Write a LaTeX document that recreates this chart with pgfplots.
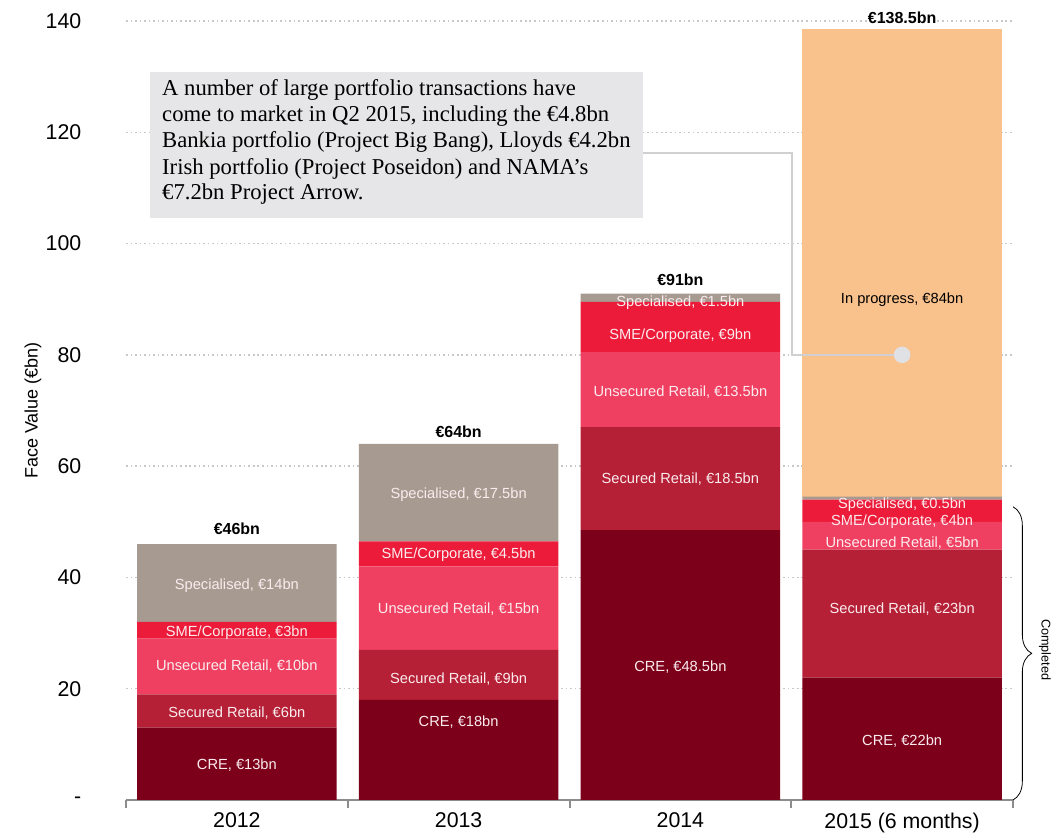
\documentclass[border=0pt]{standalone}
\usepackage{fontspec}
\setmainfont{Liberation Sans}
\newfontfamily\serifann{Liberation Serif}
\usepackage{pgfplots}
\pgfplotsset{compat=1.18}
\usetikzlibrary{decorations.pathreplacing}
\definecolor{cre}{RGB}{125,0,27}
\definecolor{sec}{RGB}{181,32,54}
\definecolor{uns}{RGB}{240,64,98}
\definecolor{sme}{RGB}{237,27,58}
\definecolor{spe}{RGB}{167,155,145}
\definecolor{prog}{RGB}{249,193,140}
\definecolor{boxgray}{RGB}{230,230,232}
\definecolor{gridgray}{RGB}{200,200,200}
\definecolor{axisgray}{RGB}{140,140,140}
\definecolor{linegray}{RGB}{208,208,210}
\definecolor{dotgray}{RGB}{224,225,229}
\definecolor{lbl}{RGB}{250,236,238}
\tikzset{
  segLabelX/.style={font=\fontsize{11}{13}\selectfont, text=lbl, text height=8pt, text depth=0pt, inner sep=0pt, anchor=center},
  totLabelX/.style={font=\fontsize{12}{14}\selectfont\bfseries, text=black, text height=8.6pt, text depth=0pt, inner sep=0pt, anchor=center},
  annLabelX/.style={font=\serifann\fontsize{17}{19.5}\selectfont, text=black, inner sep=0pt, anchor=base west},
}
\begin{document}
\begin{tikzpicture}
\useasboundingbox (-94.5pt,-27.75pt) rectangle (696.75pt,600pt);
\begin{axis}[
  at={(0,0)}, anchor=south west,
  width=665.25pt, height=584.25pt, scale only axis,
  xmin=-0.5, xmax=3.5, ymin=0, ymax=140,
  ybar stacked, bar width=0.9,
  clip=false,
  axis x line=bottom, axis y line=left,
  x axis line style={draw=axisgray, line width=1.5pt, -},
  y axis line style={draw=none, -},
  xtick={-0.5,0.5,1.5,2.5,3.5},
  xticklabels={2012,2013,2014,2015 (6 months)},
  x tick label as interval,
  xtick style={draw=axisgray, line width=1.5pt},
  tick align=outside,
  major tick length=6pt,
  ytick={0,20,40,60,80,100,120,140},
  yticklabels={-,20,40,60,80,100,120,140},
  ytick style={draw=none},
  ymajorgrids,
  major grid style={draw=gridgray, line width=1pt, dash pattern=on 1.2pt off 2.2pt},
  tick label style={font=\fontsize{16}{18}\selectfont},
  yticklabel style={xshift=-24pt},
  ylabel={Face Value (€bn)},
  ylabel style={font=\fontsize{13.5}{16}\selectfont, at={(axis description cs:-0.1048,0.5)}, anchor=center},
]
\addplot[fill=cre, draw=none] coordinates {(0,13) (1,18) (2,48.5) (3,22)};
\addplot[fill=sec, draw=none] coordinates {(0,6) (1,9) (2,18.5) (3,23)};
\addplot[fill=uns, draw=none] coordinates {(0,10) (1,15) (2,13.5) (3,5)};
\addplot[fill=sme, draw=none] coordinates {(0,3) (1,4.5) (2,9) (3,4)};
\addplot[fill=spe, draw=none] coordinates {(0,14) (1,17.5) (2,1.5) (3,0.5)};
\addplot[fill=prog, draw=none] coordinates {(0,0) (1,0) (2,0) (3,84)};
\end{axis}
% annotations in data units (x: -0.5..3.5 -> 0..665.25pt, y: 0..140 -> 0..584.25pt)
\begin{scope}[x=166.3125pt, y=4.173214pt, xshift=83.15625pt]
\node[segLabelX] at (0,38.8) {Specialised, €14bn};
\node[segLabelX] at (0,30.4) {SME/Corporate, €3bn};
\node[segLabelX] at (0,24.3) {Unsecured Retail, €10bn};
\node[segLabelX] at (0,15.8) {Secured Retail, €6bn};
\node[segLabelX] at (0,6.5) {CRE, €13bn};
\node[segLabelX] at (1,55.2) {Specialised, €17.5bn};
\node[segLabelX] at (1,44.4) {SME/Corporate, €4.5bn};
\node[segLabelX] at (1,34.5) {Unsecured Retail, €15bn};
\node[segLabelX] at (1,21.9) {Secured Retail, €9bn};
\node[segLabelX] at (1,14.2) {CRE, €18bn};
\node[segLabelX] at (2,89.7) {Specialised, €1.5bn};
\node[segLabelX] at (2,83.7) {SME/Corporate, €9bn};
\node[segLabelX] at (2,73.5) {Unsecured Retail, €13.5bn};
\node[segLabelX] at (2,57.9) {Secured Retail, €18.5bn};
\node[segLabelX] at (2,24.1) {CRE, €48.5bn};
\node[segLabelX] at (3,53.4) {Specialised, €0.5bn};
\node[segLabelX] at (3,50.3) {SME/Corporate, €4bn};
\node[segLabelX] at (3,46.4) {Unsecured Retail, €5bn};
\node[segLabelX] at (3,34.5) {Secured Retail, €23bn};
\node[segLabelX] at (3,10.8) {CRE, €22bn};
\node[segLabelX, text=black] at (3,90.2) {In progress, €84bn};

\node[totLabelX] at (0,48.7) {€46bn};
\node[totLabelX] at (1,66.1) {€64bn};
\node[totLabelX] at (2,93.5) {€91bn};
\node[totLabelX] at (3,140.5) {€138.5bn};

\fill[boxgray] (-0.392,130.8) rectangle (1.831,104.6);
\node[annLabelX] at (-0.338,126.52) {A number of large portfolio transactions have};
\node[annLabelX] at (-0.338,121.85) {come to market in Q2 2015, including the €4.8bn};
\node[annLabelX] at (-0.338,117.18) {Bankia portfolio (Project Big Bang), Lloyds €4.2bn};
\node[annLabelX] at (-0.338,112.5) {Irish portfolio (Project Poseidon) and NAMA’s};
\node[annLabelX] at (-0.338,107.83) {€7.2bn Project Arrow.};
\draw[linegray, line width=1pt] (1.831,116.3) -- (2.503,116.3) -- (2.503,80) -- (3,80);
\node[circle, fill=dotgray, inner sep=0pt, minimum size=12.4pt] at (3,80) {};

\draw[decorate, decoration={brace, amplitude=14pt}, line width=0.6pt] (3.5,52.7) -- (3.5,0);
\node[rotate=-90, font=\fontsize{9.5}{11}\selectfont, inner sep=0pt] at (3.644,27) {Completed};
\end{scope}
\end{tikzpicture}
\end{document}
